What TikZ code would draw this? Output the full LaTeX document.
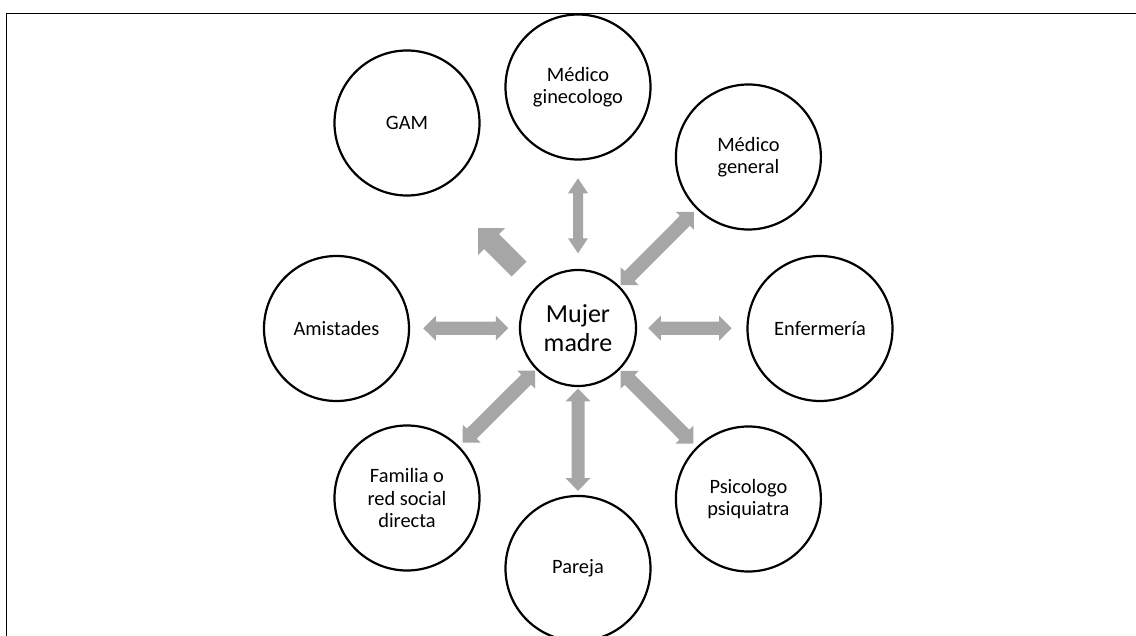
\documentclass[tikz,border=0pt]{standalone}
\usepackage{fontspec}
\setmainfont{Carlito}
\usetikzlibrary{calc,backgrounds}

\definecolor{arrowgray}{HTML}{A6A6A6}

\tikzset{
  bubble/.style={circle, draw=black, line width=2.2pt, fill=white,
    minimum size=145pt, inner sep=0pt, align=center,
    font=\fontsize{20.4}{22.6}\selectfont},
  hub/.style={bubble, minimum size=116pt,
    font=\fontsize{26}{28.4}\selectfont},
  arrowfill/.style={fill=arrowgray},
  frameline/.style={draw=black, line width=1.8pt}
}

% Double-headed block arrow on the line between two nodes.
% #1,#2: nodes; #3: distance of first tip from #1; #4: distance of second tip from #2;
% #5: half shaft width; #6: head length; #7: half head width
\newcommand\dblarrow[7]{%
  \path ($(#1)!#3pt!(#2)$) coordinate (tipA) ($(#2)!#4pt!(#1)$) coordinate (tipB);
  \fill[arrowfill] let \p1=(tipA), \p2=(tipB),
      \n1={atan2(\y2-\y1,\x2-\x1)}, \n2={veclen(\x2-\x1,\y2-\y1)} in
    ([shift={(\p1)},rotate=\n1]0,0)
    -- ([shift={(\p1)},rotate=\n1]#6,#7)
    -- ([shift={(\p1)},rotate=\n1]#6,#5)
    -- ([shift={(\p1)},rotate=\n1]\n2-#6,#5)
    -- ([shift={(\p1)},rotate=\n1]\n2-#6,#7)
    -- ([shift={(\p1)},rotate=\n1]\n2,0)
    -- ([shift={(\p1)},rotate=\n1]\n2-#6,-#7)
    -- ([shift={(\p1)},rotate=\n1]\n2-#6,-#5)
    -- ([shift={(\p1)},rotate=\n1]#6,-#5)
    -- ([shift={(\p1)},rotate=\n1]#6,-#7)
    -- cycle;
}

% Single-headed block arrow from a node towards a tip coordinate.
% #1: node; #2: tip coordinate; #3: distance of the tail from #1;
% #4: half shaft width; #5: head length; #6: half head width
\newcommand\sglarrow[6]{%
  \path ($(#1)!#3pt!(#2)$) coordinate (tailA);
  \fill[arrowfill] let \p1=(tailA), \p2=(#2),
      \n1={atan2(\y2-\y1,\x2-\x1)}, \n2={veclen(\x2-\x1,\y2-\y1)} in
    ([shift={(\p1)},rotate=\n1]0,#4)
    -- ([shift={(\p1)},rotate=\n1]\n2-#5,#4)
    -- ([shift={(\p1)},rotate=\n1]\n2-#5,#6)
    -- ([shift={(\p1)},rotate=\n1]\n2,0)
    -- ([shift={(\p1)},rotate=\n1]\n2-#5,-#6)
    -- ([shift={(\p1)},rotate=\n1]\n2-#5,-#4)
    -- ([shift={(\p1)},rotate=\n1]0,-#4)
    -- cycle;
}

\begin{document}
\begin{tikzpicture}[x=1pt, y=-1pt]
  \clip (0,0) rectangle (1136,636);

  % surrounding frame, open to the right and bottom
  \draw[frameline] (6.5,660) -- (6.5,13.5) -- (1160,13.5);

  % the woman at the centre and her support network
  \node[hub]    (mujer) at (578,328)   {Mujer\\madre};
  \node[bubble] (gine)  at (578,87)    {Médico\\ginecologo};
  \node[bubble] (mgen)  at (748.4,157) {Médico\\general};
  \node[bubble] (enf)   at (820,328.5) {Enfermería};
  \node[bubble] (psi)   at (748.4,499) {Psicologo\\psiquiatra};
  \node[bubble] (par)   at (578,568.5) {Pareja};
  \node[bubble] (fam)   at (407,498)   {Familia o\\red social\\directa};
  \node[bubble] (amist) at (336.5,328.5) {Amistades};
  \node[bubble] (gam)   at (407,123)   {GAM};

  \coordinate (gamtip) at (478,228);

  \begin{pgfonlayer}{background}
    \fill[white] (0,0) rectangle (1136,636);
    \dblarrow{mujer}{gine}{74.7}{91.3}{5}{15}{10}
    \dblarrow{mujer}{mgen}{60.5}{77}{7}{12.7}{12.7}
    \dblarrow{mujer}{enf}{70.3}{88.4}{6.6}{12.5}{12.5}
    \dblarrow{mujer}{psi}{60.5}{78}{7}{12.7}{12.7}
    \dblarrow{mujer}{par}{60.5}{77.5}{6.5}{13}{12.5}
    \dblarrow{mujer}{fam}{60.5}{78.5}{7}{12.7}{12.7}
    \dblarrow{mujer}{amist}{69.7}{86.8}{6.6}{12.5}{12.5}
    \sglarrow{mujer}{gamtip}{83.4}{10.6}{19}{19}
  \end{pgfonlayer}
\end{tikzpicture}
\end{document}
